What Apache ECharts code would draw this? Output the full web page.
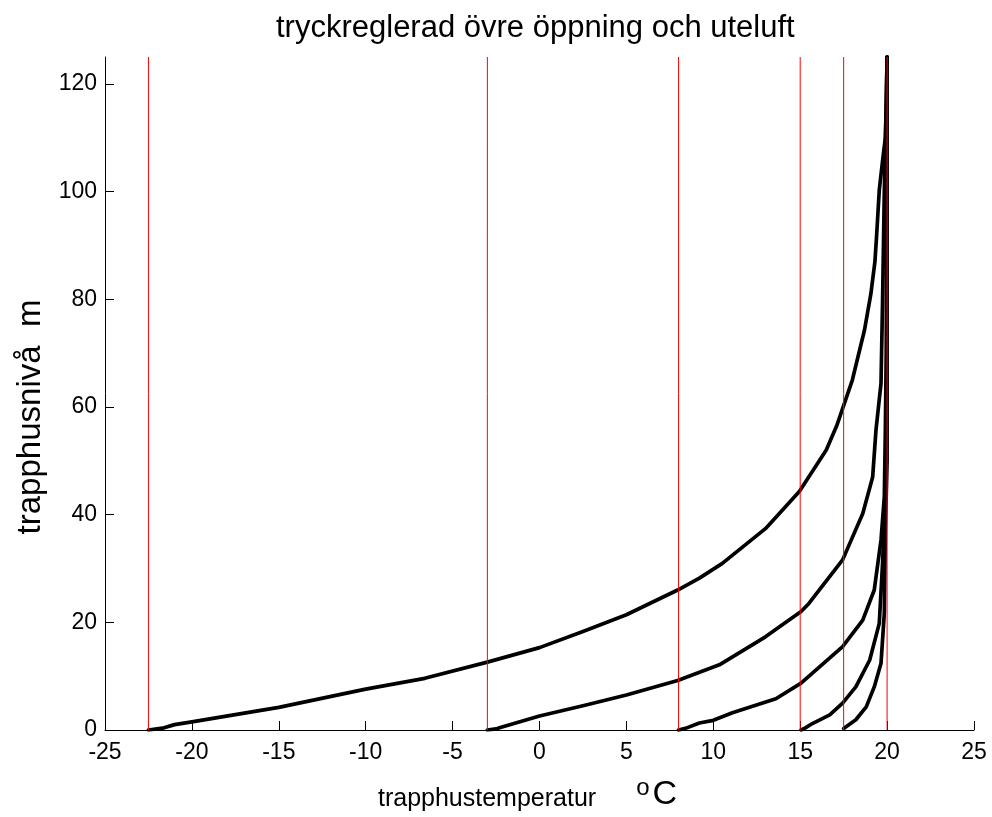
<!DOCTYPE html>
<html>
<head>
<meta charset="utf-8">
<script src="https://cdn.jsdelivr.net/npm/echarts@6/dist/echarts.min.js"></script>
<style>
  body { margin: 0; background: #fff; }
  #chart { width: 992px; height: 817px; }
</style>
</head>
<body>
<div id="chart"></div>
<script>
  // temperatures (x) and levels (y) of each curve, one pair of arrays per outdoor temperature
  var c1T = [-22.5, -21.6, -21, -20, -15, -10, -6.6, -3, 0, 2.5, 5, 7.95, 9.2, 10.5, 13, 14.95, 16.5, 17.1, 18, 18.7, 19.07, 19.3, 19.4, 19.55, 19.75, 19.9, 19.95, 20];
  var c1H = [0, 0.4, 1, 1.5, 4.2, 7.6, 9.6, 12.6, 15.3, 18.3, 21.4, 26, 28.2, 30.9, 37.4, 44.3, 52, 56.5, 65, 74.3, 81.1, 87, 92, 100.3, 106, 110, 116, 125];

  var c2T = [-3, -2.5, -2.3, 0, 2.5, 5, 7.95, 10.35, 13, 15.05, 15.5, 17.44, 18.6, 19.17, 19.36, 19.65, 19.74, 19.84, 19.9, 20];
  var c2H = [0, 0.2, 0.4, 2.6, 4.5, 6.5, 9.2, 12.1, 17.3, 22, 23.5, 31.6, 40.2, 47, 55.7, 64.4, 79.8, 100, 108, 125];

  var c3T = [8, 8.4, 9.2, 10, 11.1, 12.84, 13.6, 15.05, 17.44, 18.6, 19.26, 19.65, 19.84, 19.9, 19.95, 20];
  var c3H = [0, 0.3, 1.3, 1.8, 3.2, 5, 5.8, 8.7, 15.5, 20.4, 26, 35.3, 43.3, 55.7, 70, 125];

  var c4T = [15.05, 15.3, 15.7, 16.7, 17.44, 18.2, 19, 19.55, 19.74, 19.9, 20, 20];
  var c4H = [0, 0.4, 1.2, 2.8, 5, 8, 13, 19.8, 31, 43.3, 60, 125];

  var c5T = [17.5, 17.6, 18.2, 18.8, 19.26, 19.65, 19.84, 19.9, 20, 20];
  var c5H = [0.3, 0.6, 1.9, 4.3, 8, 12.4, 21.7, 37, 50, 125];

  // outdoor temperatures, drawn as red verticals
  var redX = [-22.5, -3, 8, 15, 17.5, 20];

  var yTicks = [0, 20, 40, 60, 80, 100, 120];

  var FONT = "'Liberation Sans', Arial, sans-serif";

  function pairs(t, h) {
    var out = [];
    for (var i = 0; i < t.length; i++) {
      out.push([t[i], h[i]]);
    }
    return out;
  }

  var curves = [[c1T, c1H], [c2T, c2H], [c3T, c3H], [c4T, c4H], [c5T, c5H]];
  var series = [];

  for (var i = 0; i < curves.length; i++) {
    series.push({
      type: 'line',
      data: pairs(curves[i][0], curves[i][1]),
      showSymbol: false,
      silent: true,
      lineStyle: { color: '#000', width: 3.7, join: 'round', cap: 'round' },
      z: 2
    });
  }

  for (var j = 0; j < redX.length; j++) {
    series.push({
      type: 'line',
      data: [[redX[j], 0], [redX[j], 125]],
      showSymbol: false,
      silent: true,
      lineStyle: { color: '#ff0000', width: 1 },
      z: 3
    });
  }

  var myChart = echarts.init(document.getElementById('chart'));

  myChart.setOption({
    animation: false,
    backgroundColor: '#fff',
    title: {
      text: 'tryckreglerad övre öppning och uteluft',
      left: 271,
      top: 8,
      textStyle: { fontFamily: FONT, fontSize: 31, fontWeight: 'normal', color: '#000' }
    },
    grid: { left: 105, right: 18, top: 57, bottom: 87, outerBoundsMode: 'none' },
    xAxis: {
      type: 'value',
      min: -25,
      max: 25,
      interval: 5,
      name: '{a|trapphustemperatur}{s|o}{c|C}',
      nameLocation: 'middle',
      nameGap: 46,
      nameTextStyle: {
        padding: [0, 24, 0, 0],
        rich: {
          a: { fontFamily: FONT, fontSize: 25, color: '#000', verticalAlign: 'bottom' },
          s: { fontFamily: FONT, fontSize: 24, color: '#000', verticalAlign: 'bottom', padding: [0, 3, 12, 40] },
          c: { fontFamily: FONT, fontSize: 34, color: '#000', verticalAlign: 'bottom' }
        }
      },
      axisLine: { lineStyle: { color: '#000', width: 1 } },
      axisTick: { inside: true, length: 9, lineStyle: { color: '#000' } },
      axisLabel: { fontFamily: FONT, fontSize: 23, color: '#000', margin: 11 },
      splitLine: { show: false }
    },
    yAxis: {
      type: 'value',
      min: 0,
      max: 125,
      name: 'trapphusnivå  m',
      nameLocation: 'middle',
      nameGap: 52,
      nameTextStyle: { fontFamily: FONT, fontSize: 33, color: '#000', padding: [0, 47, 0, 0] },
      axisLine: { show: true, onZero: false, lineStyle: { color: '#000', width: 1 } },
      axisTick: { show: true, inside: true, length: 9, customValues: yTicks, lineStyle: { color: '#000' } },
      axisLabel: { fontFamily: FONT, fontSize: 23, color: '#000', margin: 8, customValues: yTicks },
      splitLine: { show: false }
    },
    series: series
  });
</script>
</body>
</html>
